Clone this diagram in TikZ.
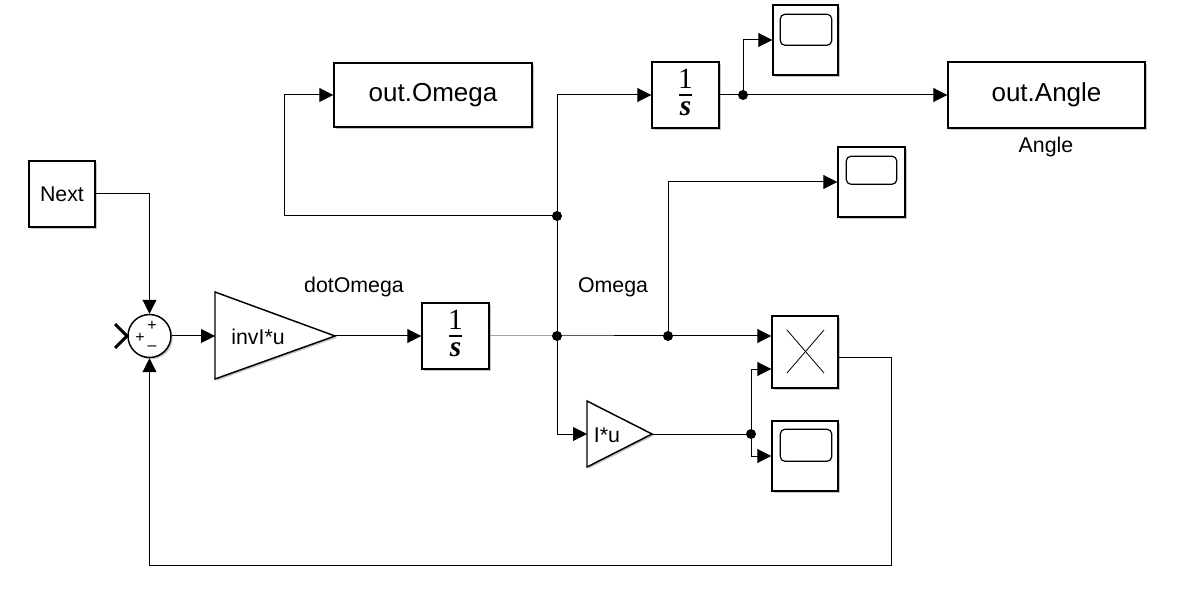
\documentclass[tikz,border=0pt]{standalone}
\usepackage{fontspec}
\setmainfont{Liberation Sans}
\newfontfamily\tms{Liberation Serif}
\usetikzlibrary{arrows.meta,shadows,calc}
\begin{document}
\begin{tikzpicture}[x=0.75pt,y=-0.75pt,
 shd/.style={drop shadow={shadow xshift=1.3pt,shadow yshift=-1.3pt,fill=black,opacity=0.22}},
 blk/.style={draw,line width=1.1pt,fill=white,inner sep=0pt,shd},
 wire/.style={line width=0.75pt},
 arr/.style={wire,-{Triangle[length=10.5pt,width=10.5pt]}},
 jdot/.style={circle,fill=black,inner sep=0pt,minimum size=7.5pt},
 lbl/.style={font=\fontsize{16}{18}\selectfont},
 big/.style={font=\fontsize{19.5}{22}\selectfont},
 num/.style={font=\tms\fontsize{22}{22}\selectfont,inner sep=0pt},
 den/.style={font=\tms\bfseries\itshape\fontsize{22}{22}\selectfont,inner sep=0pt},
 fbar/.style={line width=1.3pt},
 sgn/.style={font=\fontsize{12}{12}\selectfont,inner sep=0pt},
 scr/.style={rounded corners=3.5pt,line width=0.9pt}]
\useasboundingbox (0,0) rectangle (1184,598);

% blocks
\node[blk,minimum width=49.5pt,minimum height=49.5pt,lbl] (next) at (62,194) {Next};
\node[blk,circle,minimum size=32.25pt] (sum) at (149.5,336) {};
\node[sgn] (sp1) at (152,326) {+};
\node[sgn] (sp2) at (140,338) {+};
\node[sgn] (sm) at (152,348) {--};
\draw[line width=2.2pt] (115,324) -- (127,336) -- (115,348);

\coordinate (g1in) at (215,336);
\coordinate (g1out) at (335,336);
\draw[line width=1.1pt,fill=white,shd] (215,292) -- (g1out) -- (215,379) -- cycle;
\node[lbl] (g1txt) at (258,337) {invI*u};

\node[blk,minimum width=50.25pt,minimum height=49.5pt] (int1) at (455.5,336) {};
\node[num] (int1n) at (455.5,320) {1};
\draw[fbar] (449,336) -- (462,336);
\node[den] (int1d) at (455.5,350) {s};
\node[blk,minimum width=50.25pt,minimum height=49.5pt] (int2) at (685.5,95) {};
\node[num] (int2n) at (685.5,79) {1};
\draw[fbar] (679,95) -- (692,95);
\node[den] (int2d) at (685.5,109) {s};

\node[blk,minimum width=148.5pt,minimum height=48pt,big] (outom) at (433,95) {out.Omega};
\node[blk,minimum width=147.75pt,minimum height=49.5pt,big] (oa) at (1046.5,95) {out.Angle};
\node[lbl] (anglbl) at (1046,147) {Angle};

\node[blk,minimum width=48.75pt,minimum height=52.5pt] (sc1) at (805.5,40) {};
\draw[scr] ($(sc1.north west)+(8,10)$) rectangle ($(sc1.north east)+(-7,41)$);
\node[blk,minimum width=50.25pt,minimum height=52.5pt] (sc2) at (871.5,182) {};
\draw[scr] ($(sc2.north west)+(9,10)$) rectangle ($(sc2.north east)+(-9,38)$);
\node[blk,minimum width=49.5pt,minimum height=52.5pt] (sc3) at (805,456) {};
\draw[scr] ($(sc3.north west)+(9,9)$) rectangle ($(sc3.north east)+(-7,41)$);

\node[blk,minimum width=49.5pt,minimum height=54pt] (prod) at (805,352) {};
\draw[line width=0.6pt] ($(prod.center)+(-18,-22)$) -- ($(prod.center)+(19,21)$);
\draw[line width=0.6pt] ($(prod.center)+(-18,21)$) -- ($(prod.center)+(19,-22)$);

\coordinate (g2in) at (587,434);
\coordinate (g2out) at (652,434);
\draw[line width=1.1pt,fill=white,shd] (587,401) -- (g2out) -- (587,467) -- cycle;
\node[lbl] (g2txt) at (607,435) {I*u};

\node[lbl] (dotlbl) at (354,287) {dotOmega};
\node[lbl] (omlbl) at (613,287) {Omega};

% junctions
\node[jdot] (j1) at (557,336) {};
\node[jdot] (j2) at (668,336) {};
\node[jdot] (j3) at (751,434) {};
\node[jdot] (j4) at (557,216) {};
\node[jdot] (j5) at (743,95) {};
\coordinate (c1) at (284,216);
\coordinate (pin2) at ($(prod.west)+(0,17)$);
\coordinate (pout) at ($(prod.east)+(0,5)$);
\coordinate (fb) at (891,565);

% connectors
\draw[arr] (next.east) -| (sum.north);
\draw[arr] (sum.east) -- (g1in);
\draw[arr] (g1out) -- (int1.west);
\draw[wire] (int1.east) -- (j1.center) -- (j2.center);
\draw[arr] (j2.center) -- (prod.west |- j2.center);
\draw[arr] (j2.center) |- (sc2.west);
\draw[wire] (j1.center) -- (j4.center);
\draw[arr] (j1.center) |- (g2in);
\draw[wire] (g2out) -- (j3.center);
\draw[arr] (j3.center) |- (pin2);
\draw[arr] (j3.center) |- (sc3.west);
\draw[arr] (pout) -| (fb) -| (sum.south);
\draw[arr] (j4.center) -- (c1) |- (outom.west);
\draw[arr] (j4.center) |- (int2.west);
\draw[wire] (int2.east) -- (j5.center);
\draw[arr] (j5.center) |- (sc1.west);
\draw[arr] (j5.center) -- (oa.west);
\end{tikzpicture}
\end{document}
